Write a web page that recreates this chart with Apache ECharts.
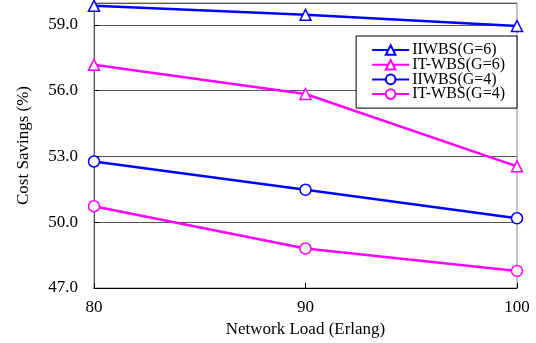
<!DOCTYPE html>
<html>
<head>
<meta charset="utf-8">
<script src="https://cdn.jsdelivr.net/npm/echarts@6/dist/echarts.min.js"></script>
<style>
    html, body { margin: 0; padding: 0; background: #fff; }
    #chart { width: 536px; height: 343px; }
</style>
</head>
<body>
<div id="chart"></div>
<script>
// network load (Erlang)
const loads = [80, 90, 100];
const iiwbsG6 = [59.87, 59.46, 58.95];
const itwbsG6 = [57.18, 55.85, 52.55];
const iiwbsG4 = [52.77, 51.48, 50.18];
const itwbsG4 = [50.73, 48.80, 47.78];
const seriesNames = ['IIWBS(G=6)', 'IT-WBS(G=6)', 'IIWBS(G=4)', 'IT-WBS(G=4)'];

const font = 'Liberation Serif';
const blue = '#0000ff';
const pink = '#ff00ff';

function pairs(vals) {
    return loads.map((x, i) => [x, vals[i]]);
}

function mkSeries(name, vals, color, symbol) {
    return {
        name: name,
        type: 'line',
        data: pairs(vals),
        symbol: symbol,
        symbolSize: 11,
        showAllSymbol: true,
        lineStyle: { color: color, width: 2.5 },
        itemStyle: { color: '#fff', borderColor: color, borderWidth: 1.5 },
        emphasis: { disabled: true },
        z: 3
    };
}

const chart = echarts.init(document.getElementById('chart'));
chart.setOption({
    animation: false,
    grid: {
        left: 94, right: 19, top: 3, bottom: 55,
        outerBoundsMode: 'none',
        show: true, borderColor: '#888', borderWidth: 1
    },
    legend: {
        orient: 'vertical',
        right: 19,
        top: 36,
        padding: [6, 12, 6, 15],
        itemWidth: 37,
        itemHeight: 12,
        itemGap: -1.3,
        borderColor: '#000',
        borderWidth: 1,
        backgroundColor: '#fff',
        textStyle: { fontFamily: font, fontSize: 16, color: '#000', padding: [0, 0, 0, -2] },
        data: seriesNames
    },
    xAxis: {
        type: 'value',
        min: 80,
        max: 100,
        interval: 10,
        name: 'Network Load (Erlang)',
        nameLocation: 'middle',
        nameGap: 32,
        nameTextStyle: { fontFamily: font, fontSize: 17, color: '#000' },
        axisLine: { onZero: false, lineStyle: { color: '#000', width: 1 } },
        axisTick: { inside: true, length: 5, lineStyle: { color: '#000' } },
        axisLabel: { fontFamily: font, fontSize: 17, color: '#000', margin: 11 },
        splitLine: { show: false }
    },
    yAxis: {
        type: 'value',
        min: 47,
        max: 60,
        interval: 3,
        name: 'Cost Savings (%)',
        nameLocation: 'middle',
        nameGap: 62,
        nameTextStyle: { fontFamily: font, fontSize: 17, color: '#000' },
        axisLine: { lineStyle: { color: '#555', width: 1 } },
        axisTick: { inside: true, length: 5, lineStyle: { color: '#000' } },
        axisLabel: {
            fontFamily: font, fontSize: 17, color: '#000', margin: 16,
            showMaxLabel: false,
            formatter: v => v.toFixed(1)
        },
        splitLine: { show: true, lineStyle: { color: '#555', width: 1 } }
    },
    series: [
        mkSeries(seriesNames[0], iiwbsG6, blue, 'triangle'),
        mkSeries(seriesNames[1], itwbsG6, pink, 'triangle'),
        mkSeries(seriesNames[2], iiwbsG4, blue, 'circle'),
        mkSeries(seriesNames[3], itwbsG4, pink, 'circle')
    ]
});
</script>
</body>
</html>
